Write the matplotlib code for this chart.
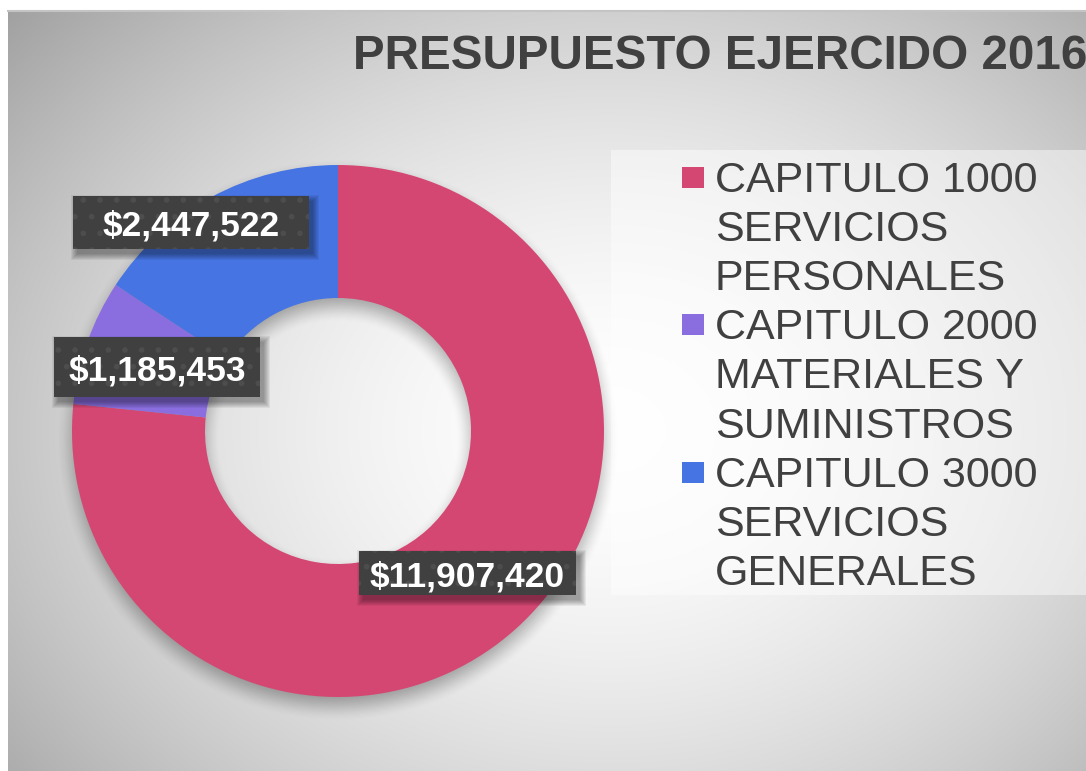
import numpy as np
import matplotlib.pyplot as plt
from matplotlib.patches import Rectangle

# data
categories = ['CAPITULO 1000\nSERVICIOS\nPERSONALES',
              'CAPITULO 2000\nMATERIALES Y\nSUMINISTROS',
              'CAPITULO 3000\nSERVICIOS\nGENERALES']
values = [11907420, 1185453, 2447522]
colors = ['#D54773', '#8A6EDF', '#4674E3']
title = 'PRESUPUESTO EJERCIDO 2016'
value_labels = ['$' + f'{v:,}' for v in values]

W, H = 1086, 771
TXT = '#404040'
FONT = 'Liberation Sans'


def Y(y):
    # pixel row measured from the top -> data y
    return H - y


fig = plt.figure(figsize=(W / 100, H / 100), dpi=100)
ax = fig.add_axes([0, 0, 1, 1])

# chart area background: radial grey gradient
x0, ytop = 8, 11
xx, yy = np.meshgrid(np.arange(x0, W) + 0.5, np.arange(ytop, H) + 0.5)
rr = np.hypot((xx - 610) / 640, (yy - 430) / 500)
shade = 1 - 0.25 * np.clip(rr, 0, 1.3) ** 1.7
ax.imshow(np.dstack([shade] * 3), extent=(x0, W, 0, Y(ytop)), origin='upper',
          aspect='auto', interpolation='bilinear', zorder=0)
ax.plot([x0, W], [Y(ytop), Y(ytop)], color='#c4c4c4', lw=1.5, zorder=1)

# donut geometry
cx, cy, R, r_in = 338, 431, 266, 133

# soft drop shadow under the ring
blur = 16
d = np.hypot(xx - cx, yy - (cy + 9))


def soft(rad):
    t = np.clip((rad + blur - d) / (2 * blur), 0, 1)
    return t * t * (3 - 2 * t)


sh = np.zeros(xx.shape + (4,))
sh[..., 3] = 0.32 * (soft(R) - soft(r_in))
ax.imshow(sh, extent=(x0, W, 0, Y(ytop)), origin='upper', aspect='auto',
          interpolation='bilinear', zorder=1)

wedges, _ = ax.pie(values, colors=colors, startangle=90, counterclock=False,
                   radius=R, center=(cx, Y(cy)), frame=False,
                   wedgeprops=dict(width=R - r_in, linewidth=0))
for w in wedges:
    w.set_zorder(2)

# data labels (dark dotted boxes with a soft shadow)
plt.rcParams['hatch.linewidth'] = 1.6
label_boxes = [(359, 551, 576, 595), (54, 337, 260, 397), (73, 196, 309, 249)]
for txt, (bx0, by0, bx1, by1) in zip(value_labels, label_boxes):
    for g in range(6, -1, -1):
        ax.add_patch(Rectangle((bx0 + 4 - g, Y(by1 + 5 + g)), bx1 - bx0 + 2 * g,
                               by1 - by0 + 2 * g, facecolor='black', alpha=0.06,
                               linewidth=0, zorder=5))
    ax.add_patch(Rectangle((bx0, Y(by1)), bx1 - bx0, by1 - by0, facecolor='#404040',
                           edgecolor='#4d4d4d', linewidth=0, hatch='.', zorder=5))
    ax.text((bx0 + bx1) / 2, Y((by0 + by1) / 2 + 13), txt, ha='center', va='baseline',
            color='white', fontsize=25.5, fontweight='bold', family=FONT, zorder=6)

# title (runs off the right edge, as in the original)
ax.text(353, Y(69), title, ha='left', va='baseline', fontsize=34.3,
        fontweight='bold', color=TXT, family=FONT, zorder=6)

# legend
ax.add_patch(Rectangle((611, Y(595)), W - 611, 595 - 150, facecolor='white',
                       alpha=0.45, linewidth=0, zorder=3))
line_step = 49.1
k = 0
for cat, col in zip(categories, colors):
    lines = cat.split('\n')
    base = 192 + line_step * k
    ax.add_patch(Rectangle((682, Y(base - 4)), 22, 21, facecolor=col,
                           linewidth=0, zorder=4))
    for ln in lines:
        ax.text(715, Y(192 + line_step * k), ln, ha='left', va='baseline',
                fontsize=31, color=TXT, family=FONT, zorder=4)
        k += 1

ax.set_xlim(0, W)
ax.set_ylim(0, H)
ax.axis('off')

fig.savefig('out.png', dpi=100, facecolor='white')
